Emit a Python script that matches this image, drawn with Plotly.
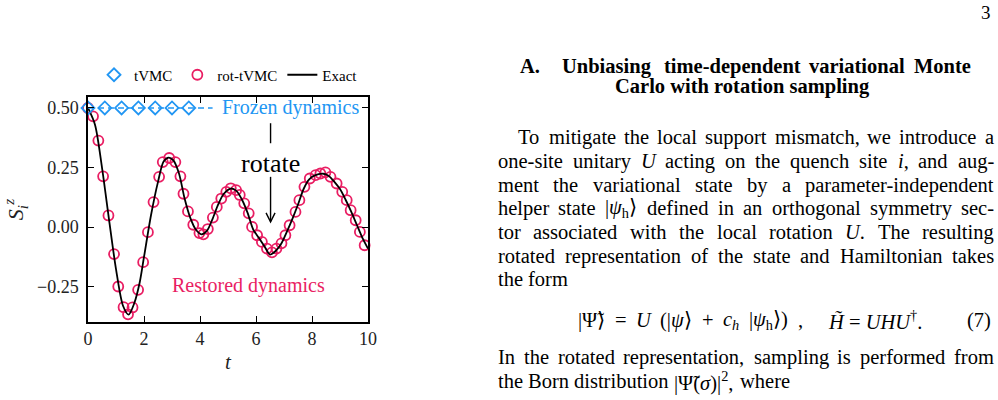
import re
import plotly.graph_objects as go

# ---------------- data ----------------
exact_t = [0.0, 0.25, 0.5, 0.75, 1.0, 1.25, 1.45, 1.65, 1.85, 2.0, 2.25, 2.5, 2.7, 2.88,
           3.05, 3.25, 3.45, 3.65, 3.85, 4.05, 4.25, 4.45, 4.65, 4.85, 5.1, 5.3, 5.5, 5.7,
           5.9, 6.1, 6.3, 6.5, 6.7, 6.9, 7.1, 7.3, 7.5, 7.7, 7.9, 8.1, 8.4, 8.6, 8.8, 9.0,
           9.2, 9.4, 9.6, 9.8, 10.0]
exact_sz = [0.5, 0.43, 0.25, 0.033, -0.176, -0.33, -0.367, -0.32, -0.23, -0.125, 0.05, 0.19,
            0.275, 0.292, 0.28, 0.225, 0.12, 0.04, -0.01, -0.03, -0.015, 0.035, 0.095, 0.14,
            0.162, 0.152, 0.115, 0.06, -0.01, -0.045, -0.08, -0.115, -0.1, -0.07, -0.02,
            0.035, 0.095, 0.16, 0.2, 0.217, 0.224, 0.215, 0.19, 0.16, 0.115, 0.065, 0.01,
            -0.045, -0.09]

rot_t = [0.0, 0.18, 0.37, 0.54, 0.73, 0.93, 1.08, 1.27, 1.43, 1.59, 1.79, 1.97, 2.14, 2.34,
         2.54, 2.67, 2.9, 3.12, 3.3, 3.41, 3.57, 3.76, 3.98, 4.12, 4.28, 4.46, 4.6, 4.76,
         4.94, 5.1, 5.29, 5.42, 5.58, 5.74, 5.86, 6.04, 6.21, 6.39, 6.57, 6.73, 6.91, 7.05,
         7.2, 7.41, 7.55, 7.73, 7.92, 8.13, 8.3, 8.48, 8.66, 8.88, 9.08, 9.24, 9.38, 9.56,
         9.71, 9.88]
rot_sz = [0.5, 0.465, 0.363, 0.213, 0.049, -0.113, -0.249, -0.336, -0.366, -0.337, -0.263,
          -0.147, -0.021, 0.105, 0.211, 0.273, 0.29, 0.273, 0.213, 0.14, 0.066, 0.01, -0.025,
          -0.03, -0.008, 0.04, 0.085, 0.12, 0.148, 0.163, 0.155, 0.135, 0.1, 0.058, 0.001,
          -0.034, -0.062, -0.09, -0.106, -0.09, -0.068, -0.034, 0.008, 0.064, 0.113, 0.169,
          0.204, 0.218, 0.225, 0.23, 0.211, 0.183, 0.148, 0.113, 0.071, 0.029, -0.02, -0.076]

tvmc_t = [0.0, 0.6, 1.2, 1.8, 2.4, 3.0, 3.6, 4.45]
tvmc_sz = [0.5, 0.5, 0.5, 0.5, 0.5, 0.5, 0.5, 0.5]
tvmc_marker_count = 7

x_ticks = [0, 2, 4, 6, 8, 10]
y_ticks = [-0.25, 0.0, 0.25, 0.5]
y_ticktext = ["\u22120.25", "0.00", "0.25", "0.50"]

BLUE = "#2196F3"
PINK = "#E91E63"
SERIF = "Liberation Serif"

# ---------------- page geometry ----------------
W, H = 998, 400
L, R, T, B = 88, 630, 97, 78
PW, PH = W - L - R, H - T - B


def px(x):
    return (x - L) / PW


def py(y):
    return (H - B - y) / PH


fig = go.Figure()

fig.add_trace(go.Scatter(
    x=rot_t, y=rot_sz, mode="markers", name="rot-tVMC", legendrank=2,
    marker=dict(symbol="circle-open", size=10, color=PINK, line=dict(width=1.8, color=PINK)),
    cliponaxis=False))
fig.add_trace(go.Scatter(
    x=exact_t, y=exact_sz, mode="lines", name="Exact", legendrank=3,
    line=dict(color="black", width=1.8, shape="spline", smoothing=0.8)))
fig.add_trace(go.Scatter(
    x=tvmc_t, y=tvmc_sz, mode="lines", showlegend=False,
    line=dict(color=BLUE, width=1.6, dash="6px,4px")))
fig.add_trace(go.Scatter(
    x=tvmc_t[:tvmc_marker_count], y=tvmc_sz[:tvmc_marker_count], mode="markers",
    name="tVMC", legendrank=1,
    marker=dict(symbol="diamond-open", size=10, color=BLUE, line=dict(width=1.8, color=BLUE)),
    cliponaxis=False))

axis_common = dict(showline=True, linewidth=1.5, linecolor="black", mirror="ticks",
                   ticks="inside", ticklen=6, tickwidth=1.4, tickcolor="black",
                   showgrid=False, zeroline=False,
                   tickfont=dict(family=SERIF, size=18, color="#222"))

fig.update_xaxes(range=[0, 10], tickvals=x_ticks, **axis_common,
                 title=dict(text="<i>t</i>", font=dict(family=SERIF, size=21, color="#222"),
                            standoff=6))
fig.update_yaxes(range=[-0.398, 0.546], tickvals=y_ticks, ticktext=y_ticktext,
                 ticklabelstandoff=4, **axis_common,
                 title=dict(text="<i>S<sub>i</sub><sup>z</sup></i>",
                            font=dict(family=SERIF, size=22, color="#222"), standoff=8))

ann = []
shapes = []

# chart annotations
ann.append(dict(x=4.72, y=0.5, xref="x", yref="y", xanchor="left", yanchor="middle",
                text="Frozen dynamics", showarrow=False,
                font=dict(family=SERIF, size=20, color=BLUE)))
ann.append(dict(x=5.73, y=-0.243, xref="x", yref="y", xanchor="center", yanchor="middle",
                text="Restored dynamics", showarrow=False,
                font=dict(family=SERIF, size=20, color=PINK)))
ann.append(dict(x=6.52, y=0.268, xref="x", yref="y", xanchor="center", yanchor="middle",
                text="rotate", showarrow=False,
                font=dict(family=SERIF, size=26, color="black")))
shapes.append(dict(type="line", xref="x", yref="y", x0=6.52, x1=6.52, y0=0.436, y1=0.352,
                   line=dict(color="black", width=1.4)))
shapes.append(dict(type="line", xref="x", yref="y", x0=6.52, x1=6.52, y0=0.211, y1=0.024,
                   line=dict(color="black", width=1.4)))
shapes.append(dict(type="path", xref="x", yref="y", xsizemode="pixel", ysizemode="pixel",
                   xanchor=6.52, yanchor=0.022, path="M-4.5,9 L0,0 L4.5,9",
                   line=dict(color="black", width=1.4)))

# ---------------- right-hand text column ----------------
TW_REG = {}
for ch, w in zip(" abcdefghijklmnopqrstuvwxyz",
                 [250, 444, 500, 444, 500, 444, 333, 500, 500, 278, 278, 500, 278, 778, 500,
                  500, 500, 500, 333, 389, 278, 500, 500, 722, 500, 500, 444]):
    TW_REG[ch] = w
for ch, w in zip("ABCDEFGHIJKLMNOPQRSTUVWXYZ",
                 [722, 667, 667, 722, 611, 556, 722, 722, 333, 389, 722, 611, 889, 722, 722,
                  556, 722, 667, 556, 611, 722, 722, 944, 722, 722, 611]):
    TW_REG[ch] = w
TW_REG.update({",": 250, ".": 250, "-": 333, "(": 333, ")": 333, "|": 200, "=": 564,
               "+": 564, "\u2020": 500, "\u27e9": 400, "\u03c8": 650, "\u03a8": 750,
               "\u03c3": 550, "\u0303": 0, "2": 500, "7": 500})


def text_width(html, size):
    total, scale = 0.0, 1.0
    for tok in re.split(r"(<[^>]+>)", html):
        if tok.startswith("<"):
            if tok in ("<sub>", "<sup>"):
                scale = 0.7
            elif tok in ("</sub>", "</sup>"):
                scale = 1.0
            continue
        for ch in tok:
            total += TW_REG.get(ch, 550) * scale
    return total * size / 1000.0


BODY = 20.5


def add_words(words, x0, x1, yc, size=BODY, justify=True, bold=False):
    widths = [text_width(w, size) for w in words]
    if justify and len(words) > 1:
        gap = (x1 - x0 - sum(widths)) / (len(words) - 1)
    else:
        gap = 0.25 * size
    x = x0
    for w, wd in zip(words, widths):
        txt = "<b>" + w + "</b>" if bold else w
        ann.append(dict(x=px(x), y=py(yc), xref="paper", yref="paper", xanchor="left",
                        yanchor="middle", text=txt, showarrow=False, borderpad=0,
                        font=dict(family=SERIF, size=size, color="black")))
        x += wd + gap


def add_line(text, x0, x1, yc, size=BODY, justify=True, bold=False):
    add_words(text.split(" "), x0, x1, yc, size=size, justify=justify, bold=bold)


# page number
ann.append(dict(x=px(993), y=py(12), xref="paper", yref="paper", xanchor="right",
                yanchor="middle", text="3", showarrow=False,
                font=dict(family=SERIF, size=19, color="black")))

# section title
add_line("A.", 519, 540, 66, justify=False, bold=True)
add_line("Unbiasing time-dependent variational Monte", 561, 967, 66, bold=True)
ann.append(dict(x=px(742), y=py(87), xref="paper", yref="paper", xanchor="center",
                yanchor="middle", text="<b>Carlo with rotation sampling</b>", showarrow=False,
                font=dict(family=SERIF, size=BODY, color="black")))

body_lines = [
    ("To mitigate the local support mismatch, we introduce a", 517, 137, True),
    ("one-site unitary <i>U</i> acting on the quench site <i>i</i>, and aug-", 497, 161, True),
    ("ment the variational state by a parameter-independent", 497, 185, True),
    ("helper state |<i>\u03c8</i><sub>h</sub>\u27e9 defined in an orthogonal symmetry sec-",
     497, 208, True),
    ("tor associated with the local rotation <i>U</i>. The resulting", 497, 232, True),
    ("rotated representation of the state and Hamiltonian takes", 497, 256, True),
    ("the form", 497, 279, False),
    ("In the rotated representation, sampling is performed from", 497, 357, True),
    ("the Born distribution |\u03a8\u0303(<i>\u03c3</i>)|<sup>2</sup>, where", 497, 381, False),
]
for text, x0, yc, just in body_lines:
    add_line(text, x0, 993, yc, justify=just)

# equation (7)
eq_left = ["|\u03a8\u0303\u27e9", "=", "<i>U</i>", "(|<i>\u03c8</i>\u27e9", "+",
           "<i>c<sub>h</sub></i>", "|<i>\u03c8</i><sub>h</sub>\u27e9)", ","]
add_words(eq_left, 577, 802, 320)
ann.append(dict(x=px(826), y=py(320), xref="paper", yref="paper", xanchor="left",
                yanchor="middle", showarrow=False,
                text="<i>H\u0303</i> = <i>UHU</i><sup>\u2020</sup>.",
                font=dict(family=SERIF, size=BODY, color="black")))
ann.append(dict(x=px(993), y=py(320), xref="paper", yref="paper", xanchor="right",
                yanchor="middle", showarrow=False, text="(7)",
                font=dict(family=SERIF, size=BODY, color="black")))

fig.update_layout(
    width=W, height=H, margin=dict(l=L, r=R, t=T, b=B, autoexpand=False),
    paper_bgcolor="white", plot_bgcolor="white",
    annotations=ann, shapes=shapes,
    legend=dict(orientation="h", x=px(94), xanchor="left", y=py(75), yanchor="middle",
                font=dict(family=SERIF, size=15, color="black"),
                bgcolor="rgba(0,0,0,0)", itemclick=False, traceorder="normal"),
    showlegend=True,
)

fig.write_html("out.html")
